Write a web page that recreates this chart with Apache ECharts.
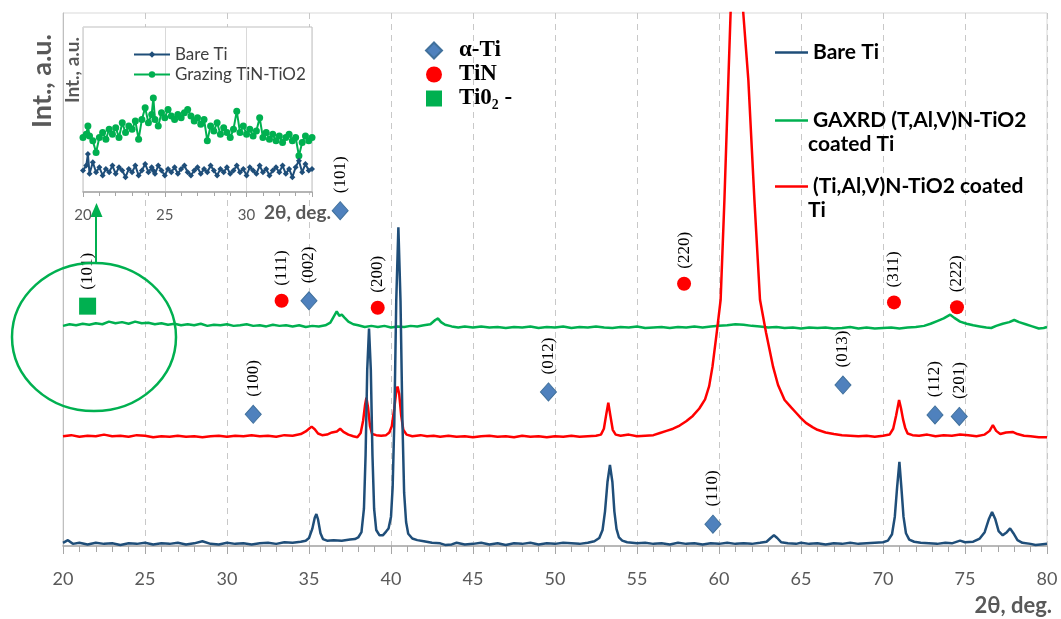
<!DOCTYPE html>
<html>
<head>
<meta charset="utf-8">
<script src="https://cdn.jsdelivr.net/npm/echarts@6/dist/echarts.min.js"></script>
<style>
  html, body { margin: 0; padding: 0; background: #fff; }
  #main { width: 1061px; height: 619px; }
</style>
</head>
<body>
<div id="main"></div>
<script>
// --- data (2theta, intensity in plot units 0..100) ---
const bareTi = [[20,0.6],[20.3,1.1],[20.6,0.4],[21,0.6],[21.5,0.3],[22,0.6],[22.5,0.4],[23,0.5],[23.5,0.2],[24,0.5],[24.5,0.4],[25,0.6],[25.5,0.3],[26,0.5],[26.5,0.4],[27,0.6],[27.5,0.3],[28,0.5],[28.5,0.9],[29,0.4],[29.5,0.3],[30,0.6],[30.5,0.4],[31,0.5],[31.5,0.3],[32,0.5],[32.5,0.6],[33,0.4],[33.5,0.7],[34,0.6],[34.5,0.8],[34.8,1.0],[35.0,1.5],[35.2,3.2],[35.35,5.3],[35.45,6.0],[35.55,5.0],[35.7,2.4],[35.85,1.3],[36.1,1.0],[36.5,1.1],[37,1.0],[37.5,1.2],[37.8,1.3],[38.0,1.6],[38.2,2.6],[38.35,7],[38.45,17],[38.55,33],[38.66,40.8],[38.77,33],[38.87,17],[38.97,7],[39.1,3.0],[39.3,2.0],[39.5,2.0],[39.7,2.7],[39.85,3.3],[40.0,5.5],[40.1,11],[40.2,23],[40.32,46],[40.45,59.8],[40.58,46],[40.7,23],[40.8,10],[40.92,4.5],[41.05,2.3],[41.3,1.4],[41.6,1.1],[42,0.9],[42.5,0.6],[43,0.5],[43.3,0.2],[43.7,0.3],[44,0.6],[44.5,0.3],[45,0.4],[45.5,0.6],[46,0.3],[46.5,0.5],[47,0.2],[47.5,0.5],[48,0.4],[48.5,0.6],[49,0.3],[49.5,0.5],[50,0.4],[50.5,0.6],[51,0.5],[51.5,0.4],[52,0.6],[52.4,0.9],[52.7,1.5],[52.9,3.0],[53.05,6.5],[53.2,12],[53.35,15.2],[53.5,12],[53.62,6.5],[53.75,3.2],[53.9,1.6],[54.1,1.0],[54.4,0.7],[55,0.5],[55.5,0.6],[56,0.4],[56.5,0.5],[57,0.3],[57.5,0.6],[58,0.4],[58.5,0.5],[59,0.3],[59.5,0.5],[60,0.4],[60.5,0.6],[61,0.4],[61.5,0.5],[62,0.4],[62.5,0.6],[62.9,0.8],[63.15,1.5],[63.35,2.0],[63.55,1.5],[63.8,0.7],[64.2,0.5],[64.7,0.4],[65,0.6],[65.5,0.4],[66,0.5],[66.5,0.3],[67,0.5],[67.5,0.4],[68,0.6],[68.5,0.4],[69,0.5],[69.5,0.6],[70,0.7],[70.3,1.0],[70.55,2.2],[70.72,5.5],[70.86,11],[71.0,15.8],[71.12,11],[71.25,5.5],[71.4,2.4],[71.6,1.2],[71.9,0.8],[72.3,0.6],[72.8,0.5],[73.3,0.4],[73.8,0.6],[74.2,0.5],[74.7,1.0],[75.0,0.7],[75.5,0.8],[75.9,1.4],[76.2,2.6],[76.45,5],[76.65,6.4],[76.85,5],[77.05,2.8],[77.3,2.0],[77.55,2.6],[77.75,3.3],[77.95,2.4],[78.2,1.1],[78.5,0.6],[79,0.4],[79.3,0.2],[79.6,0.3],[80,0.4]];

const coatedTi = [[20,20.6],[20.5,20.8],[21,20.5],[21.5,20.7],[22,20.6],[22.5,20.9],[23,20.6],[23.5,20.7],[24,20.5],[24.5,20.8],[25,20.7],[25.5,20.4],[26,20.6],[26.5,20.5],[27,20.7],[27.5,20.5],[28,20.6],[28.5,20.4],[29,20.6],[29.5,20.7],[30,20.5],[30.5,20.7],[31,20.6],[31.5,20.8],[32,20.6],[32.5,20.7],[33,20.5],[33.5,20.8],[34,20.7],[34.5,21.0],[34.8,21.5],[35.0,22.0],[35.16,22.4],[35.35,21.9],[35.55,21.1],[35.8,20.8],[36.1,20.9],[36.4,21.3],[36.7,21.5],[36.9,22.0],[37.1,21.4],[37.4,20.9],[37.7,20.6],[37.95,20.4],[38.15,21.2],[38.3,23.5],[38.42,26.5],[38.5,27.8],[38.6,26],[38.72,22.5],[38.85,21.0],[39.1,20.8],[39.4,20.7],[39.7,20.8],[39.9,21.3],[40.05,22.5],[40.2,25.8],[40.32,29],[40.4,29.9],[40.5,28.5],[40.62,24.5],[40.75,21.8],[40.95,20.9],[41.3,20.6],[41.8,20.8],[42.2,20.6],[42.6,20.7],[43,20.5],[43.5,20.7],[44,20.5],[44.5,20.6],[45,20.4],[45.5,20.6],[46,20.7],[46.5,20.5],[47,20.6],[47.5,20.4],[48,20.7],[48.5,20.5],[49,20.6],[49.5,20.4],[50,20.6],[50.5,20.5],[51,20.7],[51.5,20.5],[52,20.6],[52.5,20.7],[52.8,20.9],[52.98,22.0],[53.12,24.6],[53.25,26.9],[53.38,24.4],[53.52,21.8],[53.7,20.9],[54,20.7],[54.5,20.9],[55,20.6],[55.5,20.7],[56,20.8],[56.4,21.2],[56.8,21.6],[57.2,22.0],[57.6,22.6],[58.0,23.4],[58.4,24.4],[58.8,25.8],[59.15,27.5],[59.4,30.0],[59.6,33.6],[59.86,40],[60.1,46.2],[60.33,64.9],[60.57,87.4],[60.75,104],[60.95,122],[61.1,126],[61.25,118],[61.48,100],[61.79,87.4],[62.16,64.9],[62.5,46.2],[62.87,40],[63.3,33.6],[63.6,30.2],[64.0,27.4],[64.4,26.0],[64.7,25.0],[65.0,24.0],[65.3,23.1],[65.7,22.3],[66.0,21.8],[66.5,21.3],[67,21.0],[67.5,20.8],[68,20.7],[68.5,20.6],[69,20.7],[69.5,20.5],[70,20.7],[70.4,20.9],[70.62,22.0],[70.8,24.5],[70.98,27.4],[71.1,25.8],[71.22,23.8],[71.35,22.2],[71.5,21.1],[71.8,20.8],[72.2,20.7],[72.7,20.9],[73.2,20.6],[73.7,20.8],[74.2,20.7],[74.7,20.9],[75.2,20.8],[75.7,20.6],[76.2,20.9],[76.5,21.6],[76.7,22.7],[76.9,21.6],[77.15,21.0],[77.5,21.3],[77.9,21.4],[78.2,21.0],[78.6,20.7],[79,20.6],[79.5,20.4],[80,20.4]];

const gaxrd = [[20,41.3],[20.4,41.6],[20.8,41.4],[21.2,41.7],[21.6,41.5],[22,41.8],[22.4,41.6],[22.8,42.1],[23.2,41.8],[23.6,42.0],[24,41.7],[24.4,42.1],[24.8,41.8],[25.2,41.9],[25.6,41.6],[26,41.8],[26.4,41.5],[26.8,41.7],[27.2,41.4],[27.6,41.6],[28,41.4],[28.4,41.7],[28.8,41.3],[29.2,41.5],[29.6,41.4],[30,41.6],[30.4,41.3],[30.8,41.4],[31.2,41.6],[31.6,41.3],[32,41.4],[32.4,41.2],[32.8,41.5],[33.2,41.3],[33.6,41.4],[34,41.2],[34.4,41.4],[34.8,41.1],[35.2,41.3],[35.6,41.2],[36,41.4],[36.3,41.9],[36.5,43.0],[36.69,44.0],[36.85,43.2],[37.0,43.4],[37.15,42.9],[37.4,42.1],[37.7,41.6],[38,41.4],[38.4,41.1],[38.8,41.3],[39.2,41.1],[39.6,41.3],[40,41.0],[40.4,41.2],[40.8,41.1],[41.2,41.3],[41.6,41.2],[42,41.4],[42.4,41.6],[42.7,42.4],[42.87,42.7],[43.05,42.0],[43.3,41.5],[43.7,41.2],[44.1,41.0],[44.5,41.2],[45,41.0],[45.5,41.2],[46,41.0],[46.5,41.1],[47,40.9],[47.5,41.1],[48,41.0],[48.5,41.2],[49,40.9],[49.5,41.1],[50,41.0],[50.5,41.2],[51,40.9],[51.5,41.1],[52,41.0],[52.5,41.2],[53,41.0],[53.5,40.9],[54,41.1],[54.5,41.0],[55,41.2],[55.5,40.9],[56,41.0],[56.5,41.1],[57,40.9],[57.5,41.1],[58,41.0],[58.5,41.2],[59,41.0],[59.5,41.2],[60,41.3],[60.5,41.4],[61,41.6],[61.5,41.5],[62,41.3],[62.5,41.2],[63,41.0],[63.5,41.1],[64,40.9],[64.5,41.0],[65,40.8],[65.5,41.0],[66,40.9],[66.5,41.0],[67,40.8],[67.5,40.9],[68,41.1],[68.5,40.8],[69,41.0],[69.5,40.8],[70,40.9],[70.5,41.0],[71,40.8],[71.5,41.0],[72,41.1],[72.5,41.3],[72.9,41.7],[73.3,42.2],[73.7,42.7],[74.1,43.4],[74.35,42.8],[74.7,42.1],[75.1,41.7],[75.5,41.4],[75.9,41.2],[76.3,41.0],[76.6,40.9],[76.9,41.3],[77.3,41.7],[77.7,42.0],[78.0,42.4],[78.3,42.0],[78.7,41.6],[79.1,41.2],[79.5,40.8],[79.8,40.9],[80,41.1]];

// phase markers: [2theta, height, hkl]
const alphaTi = [[31.6,24.7,'(100)'],[35.0,46.0,'(002)'],[36.9,62.9,'(101)'],[49.6,28.9,'(012)'],[59.63,4.1,'(110)'],[67.56,30.2,'(013)'],[73.17,24.6,'(112)'],[74.65,24.3,'(201)']];
const tiN = [[33.33,46.0,'(111)'],[39.19,44.7,'(200)'],[57.87,49.2,'(220)'],[70.67,45.7,'(311)'],[74.51,44.8,'(222)']];
const tiO2 = [[21.5,45.0,'(101)']];

// inset (20-34 deg)
const insetX = [20.0,20.2,20.3,20.4,20.6,20.8,21.0,21.2,21.4,21.6,21.8,22.0,22.2,22.4,22.6,22.8,23.0,23.2,23.4,23.6,23.8,24.0,24.2,24.3,24.4,24.6,24.8,25.0,25.2,25.4,25.6,25.8,26.0,26.2,26.4,26.6,26.8,27.0,27.2,27.4,27.6,27.8,28.0,28.2,28.4,28.6,28.8,29.0,29.2,29.4,29.6,29.8,30.0,30.2,30.4,30.6,30.8,31.0,31.2,31.4,31.6,31.8,32.0,32.2,32.4,32.6,32.8,33.0,33.2,33.4,33.6,33.8,34.0];
const insetBare = [13,16,23,11,18,12,15,10,14,12,16,11,15,13,9,14,12,16,10,13,17,12,15,13,11,16,13,10,14,12,15,11,14,16,12,10,13,15,11,14,12,16,13,10,14,12,15,11,13,16,12,14,10,15,13,11,16,12,14,10,13,15,12,16,11,14,9,15,19,12,17,13,14];
const insetGrazing = [33,35,40,34,31,24,33,36,32,38,35,39,33,42,36,40,38,43,32,44,51,42,47,57,44,40,48,45,50,46,44,47,45,48,50,46,43,45,41,44,31,40,37,42,35,39,36,33,38,49,36,40,35,38,34,37,45,33,36,32,35,31,34,30,33,35,31,33,22,30,34,31,33];

const seriesNames = ['Bare Ti', 'GAXRD (T,Al,V)N-TiO2 coated Ti', '(Ti,Al,V)N-TiO2 coated Ti'];

const BLUE = '#1f4e79', RED = '#ff0000', GREEN = '#00b050';
const GREY_TXT = '#595959';

const chart = echarts.init(document.getElementById('main'));

function hklLabel() {
  return {
    show: true,
    position: 'top',
    distance: 8,
    rotate: 90,
    align: 'left',
    verticalAlign: 'middle',
    fontFamily: 'Liberation Serif',
    fontSize: 17,
    color: '#000',
    formatter: function (p) { return p.value[2]; }
  };
}

// one legend block per main series, line icon only
function lineLegend(name, top, text) {
  return {
    data: [name], left: 770, top: top, icon: 'rect', itemWidth: 33, itemHeight: 2.5,
    formatter: function () { return text; },
    textStyle: { fontFamily: 'Lato', fontWeight: 'bold', fontSize: 21, color: '#000' }
  };
}

const option = {
  animation: false,
  backgroundColor: '#fff',
  grid: [
    { left: 63, right: 14, top: 13, bottom: 73, show: true, borderColor: '#d9d9d9', borderWidth: 1 },
    { left: 83, right: 749, top: 27, bottom: 427, show: true, backgroundColor: '#fff', borderColor: '#bfbfbf', borderWidth: 1, z: 10 }
  ],
  xAxis: [
    {
      type: 'value', gridIndex: 0, min: 20, max: 80, interval: 5,
      axisLine: { lineStyle: { color: '#a6a6a6', width: 1.5 } },
      axisTick: { show: true, length: 8, lineStyle: { color: '#a6a6a6' } },
      minorTick: { show: true, splitNumber: 5, length: 6, lineStyle: { color: '#a6a6a6' } },
      splitLine: { show: true, lineStyle: { color: '#c8c8c8', type: [6, 5], width: 1 } },
      axisLabel: { fontFamily: 'Lato', fontSize: 18, color: GREY_TXT, margin: 24 },
      name: '2θ, deg.', nameLocation: 'end', nameGap: 5,
      nameTextStyle: { fontFamily: 'Lato', fontWeight: 'bold', fontSize: 22, color: GREY_TXT, align: 'right', verticalAlign: 'top', padding: [49, 0, 0, 0] }
    },
    {
      type: 'value', gridIndex: 1, min: 20, max: 34, interval: 5, z: 11,
      axisLine: { lineStyle: { color: '#a6a6a6', width: 1.5 } },
      axisTick: { show: true, length: 5, lineStyle: { color: '#a6a6a6' } },
      minorTick: { show: true, splitNumber: 5, length: 4, lineStyle: { color: '#a6a6a6' } },
      splitLine: { show: true, lineStyle: { color: '#d9d9d9', width: 1 } },
      axisLabel: { fontFamily: 'Lato', fontSize: 15, color: GREY_TXT, margin: 16, showMaxLabel: false }
    }
  ],
  yAxis: [
    {
      type: 'value', gridIndex: 0, min: 0, max: 100,
      axisLine: { show: true, lineStyle: { color: '#bfbfbf' } },
      axisTick: { show: false }, axisLabel: { show: false }, splitLine: { show: false }
    },
    { type: 'value', gridIndex: 1, min: 0, max: 100, show: false }
  ],
  legend: [
    {
      data: ['α-Ti', 'TiN', 'Ti0₂ -'], orient: 'vertical', left: 420, top: 34,
      itemWidth: 16, itemHeight: 16, itemGap: 1,
      textStyle: { fontFamily: 'Liberation Serif', fontWeight: 'bold', fontSize: 23, color: '#000', padding: [0, 0, 0, 12] }
    },
    lineLegend(seriesNames[0], 37, 'Bare Ti'),
    lineLegend(seriesNames[1], 105, 'GAXRD (T,Al,V)N-TiO2'),
    lineLegend(seriesNames[2], 171, '(Ti,Al,V)N-TiO2 coated'),
    {
      data: ['Bare Ti ', 'Grazing TiN-TiO2'], orient: 'vertical', left: 128, top: 41,
      itemWidth: 36, itemHeight: 8, itemGap: 3, z: 20,
      formatter: function (n) { return n.trim(); },
      textStyle: { fontFamily: 'Lato', fontSize: 17, color: '#404040' }
    }
  ],
  series: [
    {
      name: seriesNames[1], type: 'line', xAxisIndex: 0, yAxisIndex: 0,
      data: gaxrd, symbol: 'none', lineStyle: { color: GREEN, width: 2.5 }, itemStyle: { color: GREEN }
    },
    {
      name: seriesNames[2], type: 'line', xAxisIndex: 0, yAxisIndex: 0,
      data: coatedTi, symbol: 'none', lineStyle: { color: RED, width: 2.5 }, itemStyle: { color: RED }
    },
    {
      name: seriesNames[0], type: 'line', xAxisIndex: 0, yAxisIndex: 0,
      data: bareTi, symbol: 'none', lineStyle: { color: BLUE, width: 2.5 }, itemStyle: { color: BLUE }
    },
    {
      name: 'α-Ti', type: 'scatter', data: alphaTi, symbol: 'diamond', symbolSize: [16, 18],
      itemStyle: { color: '#4f81bd', borderColor: '#41719c', borderWidth: 1, opacity: 1 }, label: hklLabel()
    },
    {
      name: 'TiN', type: 'scatter', data: tiN, symbol: 'circle', symbolSize: 14,
      itemStyle: { color: RED, opacity: 1 }, label: hklLabel()
    },
    {
      name: 'Ti0₂ -', type: 'scatter', data: tiO2, symbol: 'rect', symbolSize: 17,
      itemStyle: { color: GREEN, opacity: 1 }, label: hklLabel()
    },
    {
      name: 'Grazing TiN-TiO2', type: 'line', xAxisIndex: 1, yAxisIndex: 1, z: 12,
      data: insetX.map(function (x, i) { return [x, insetGrazing[i]]; }),
      symbol: 'circle', symbolSize: 7, showSymbol: true,
      lineStyle: { color: GREEN, width: 2 }, itemStyle: { color: GREEN }
    },
    {
      name: 'Bare Ti ', type: 'line', xAxisIndex: 1, yAxisIndex: 1, z: 12,
      data: insetX.map(function (x, i) { return [x, insetBare[i]]; }),
      symbol: 'diamond', symbolSize: 6, showSymbol: true,
      lineStyle: { color: BLUE, width: 2 }, itemStyle: { color: BLUE }
    }
  ],
  graphic: [
    { type: 'text', x: 42, y: 81, rotation: Math.PI / 2, z: 50,
      style: { text: 'Int., a.u.', font: 'bold 27px Lato', fill: GREY_TXT, align: 'center', verticalAlign: 'middle' } },
    { type: 'text', x: 73, y: 70, rotation: Math.PI / 2, z: 50,
      style: { text: 'Int., a.u.', font: 'bold 19px Lato', fill: GREY_TXT, align: 'center', verticalAlign: 'middle' } },
    { type: 'text', x: 331, y: 213, z: 50,
      style: { text: '2θ, deg.', font: 'bold 19px Lato', fill: GREY_TXT, align: 'right', verticalAlign: 'middle' } },
    { type: 'text', x: 808, y: 144, z: 50,
      style: { text: 'coated Ti', font: 'bold 21px Lato', fill: '#000', align: 'left', verticalAlign: 'middle' } },
    { type: 'text', x: 808, y: 210, z: 50,
      style: { text: 'Ti', font: 'bold 21px Lato', fill: '#000', align: 'left', verticalAlign: 'middle' } },
    { type: 'ellipse', z: 50, shape: { cx: 94, cy: 337, rx: 82, ry: 74 },
      style: { fill: 'none', stroke: GREEN, lineWidth: 2.5 } },
    { type: 'line', z: 50, shape: { x1: 96, y1: 263, x2: 96, y2: 214 },
      style: { stroke: GREEN, lineWidth: 2 } },
    { type: 'polygon', z: 50, shape: { points: [[96.5, 203], [90.5, 217], [102.5, 217]] },
      style: { fill: GREEN } }
  ]
};

chart.setOption(option);
</script>
</body>
</html>
